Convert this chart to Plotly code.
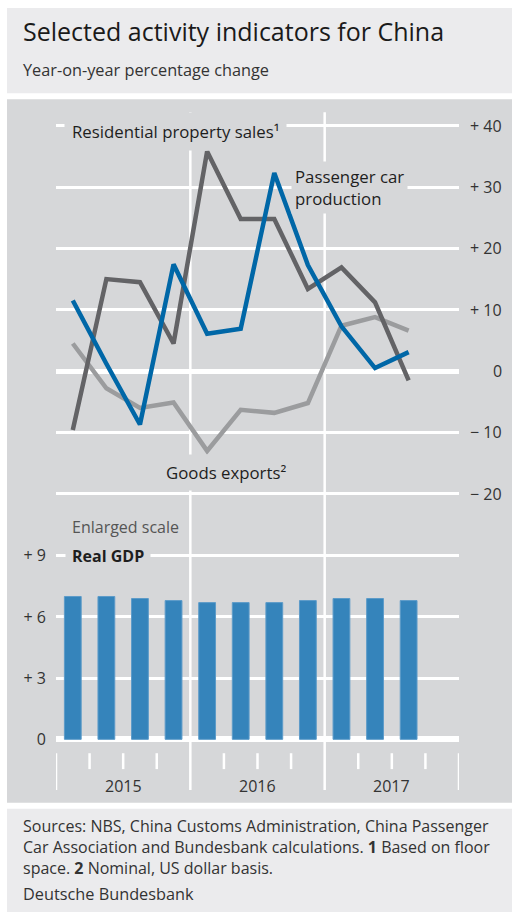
import plotly.graph_objects as go

# ---------------- data ----------------
quarters = ["2015 Q1", "2015 Q2", "2015 Q3", "2015 Q4",
            "2016 Q1", "2016 Q2", "2016 Q3", "2016 Q4",
            "2017 Q1", "2017 Q2", "2017 Q3", "2017 Q4"]
data_quarters = quarters[:11]

residential_sales = [-9.6, 15.0, 14.5, 4.5, 35.8, 24.8, 24.8, 13.4, 16.9, 11.2, -1.5]
car_production = [11.5, 1.2, -8.7, 17.4, 6.1, 6.9, 32.3, 17.3, 7.3, 0.5, 3.1]
goods_exports = [4.5, -2.8, -6.0, -5.1, -13.0, -6.3, -6.8, -5.2, 7.4, 8.8, 6.6]
real_gdp = [7.0, 7.0, 6.9, 6.8, 6.7, 6.7, 6.7, 6.8, 6.9, 6.9, 6.8]

top_tickvals = [40, 30, 20, 10, 0, -10, -20]
top_ticktext = ["+ 40", "+ 30", "+ 20", "+ 10", "0", "\u2212 10", "\u2212 20"]
bot_tickvals = [0, 3, 6, 9]
bot_ticktext = ["0", "+ 3", "+ 6", "+ 9"]
years = ["2015", "2016", "2017"]

footer_lines = ["Sources: NBS, China Customs Administration, China Passenger",
                "Car Association and Bundesbank calculations. <b>1</b> Based on floor",
                "space. <b>2</b> Nominal, US dollar basis."]

# ---------------- styling ----------------
W, H = 512, 916
FONT = "Open Sans"
HEADER_BG = "#ebebed"
PANEL_BG = "#d6d7d9"
C_RES = "#636366"
C_CAR = "#0067a7"
C_EXP = "#9b9c9e"
C_GDP = "#3584bb"
TXT = "#1e1e1e"


def fx(p):
    return p / W


def fy(p):
    return 1 - p / H


fig = go.Figure()

fig.add_trace(go.Scatter(x=data_quarters, y=goods_exports, mode="lines",
                         line=dict(color=C_EXP, width=4.5), xaxis="x", yaxis="y"))
fig.add_trace(go.Scatter(x=data_quarters, y=residential_sales, mode="lines",
                         line=dict(color=C_RES, width=4.5), xaxis="x", yaxis="y"))
fig.add_trace(go.Scatter(x=data_quarters, y=car_production, mode="lines",
                         line=dict(color=C_CAR, width=4.5), xaxis="x", yaxis="y"))
fig.add_trace(go.Bar(x=data_quarters, y=real_gdp, width=0.5,
                     marker=dict(color=C_GDP, line=dict(color="#5d9bc9", width=1)),
                     xaxis="x", yaxis="y2"))

shapes = []
# background panels
shapes.append(dict(type="rect", xref="paper", yref="paper", x0=fx(7), x1=1.0,
                   y0=fy(91), y1=fy(5), fillcolor=HEADER_BG, line=dict(width=0), layer="below"))
shapes.append(dict(type="rect", xref="paper", yref="paper", x0=fx(7), x1=1.0,
                   y0=fy(806), y1=fy(97), fillcolor=PANEL_BG, line=dict(width=0), layer="below"))
shapes.append(dict(type="rect", xref="paper", yref="paper", x0=fx(7), x1=1.0,
                   y0=fy(916), y1=fy(812), fillcolor=HEADER_BG, line=dict(width=0), layer="below"))

# year separators through both panels
for xb in [3.5, 7.5]:
    shapes.append(dict(type="line", xref="x", yref="paper", x0=xb, x1=xb,
                       y0=fy(793), y1=fy(110), line=dict(color="white", width=2.5), layer="below"))
# quarter ticks below the bar panel
for i in range(13):
    xb = i - 0.5
    major = (i % 4 == 0)
    if major and i in (4, 8):
        continue
    shapes.append(dict(type="line", xref="x", yref="paper", x0=xb, x1=xb,
                       y0=fy(793 if major else 772), y1=fy(756),
                       line=dict(color="white", width=2.5), layer="below"))

annotations = []
# titles
annotations.append(dict(text="Selected activity indicators for China", xref="paper", yref="paper",
                        x=fx(21), y=fy(28), xanchor="left", yanchor="middle", showarrow=False,
                        font=dict(family=FONT, size=25, color="#1a1a1a")))
annotations.append(dict(text="Year-on-year percentage change", xref="paper", yref="paper",
                        x=fx(21), y=fy(68), xanchor="left", yanchor="middle", showarrow=False,
                        font=dict(family=FONT, size=16.3, color="#333333")))
# right tick labels of top panel
for v, t in zip(top_tickvals, top_ticktext):
    annotations.append(dict(text=t, xref="paper", yref="y", x=fx(504), y=v,
                            xanchor="right", yanchor="middle", showarrow=False,
                            font=dict(family=FONT, size=16, color="#333333")))
# series labels
annotations.append(dict(text="Residential property sales\u00b9", xref="paper", yref="paper",
                        x=fx(64), y=fy(129), xanchor="left", yanchor="middle", showarrow=False,
                        bgcolor=PANEL_BG, borderpad=7,
                        font=dict(family=FONT, size=16.8, color=TXT)))
annotations.append(dict(text="Passenger car<br>production", xref="paper", yref="paper",
                        x=fx(291), y=fy(186), xanchor="left", yanchor="middle", showarrow=False,
                        align="left", bgcolor=PANEL_BG, borderpad=3,
                        font=dict(family=FONT, size=16.8, color=TXT)))
annotations.append(dict(text="Goods exports\u00b2", xref="paper", yref="paper",
                        x=fx(159), y=fy(473), xanchor="left", yanchor="middle", showarrow=False,
                        bgcolor=PANEL_BG, borderpad=6,
                        font=dict(family=FONT, size=16.8, color=TXT)))
annotations.append(dict(text="Enlarged scale", xref="paper", yref="paper",
                        x=fx(70), y=fy(528), xanchor="left", yanchor="middle", showarrow=False,
                        font=dict(family=FONT, size=16, color="#555555")))
annotations.append(dict(text="<b>Real GDP</b>", xref="paper", yref="paper",
                        x=fx(65), y=fy(557), xanchor="left", yanchor="middle", showarrow=False,
                        bgcolor=PANEL_BG, borderpad=6,
                        font=dict(family=FONT, size=16, color=TXT)))
# year labels
for k, yr in enumerate(years):
    annotations.append(dict(text=yr, xref="x", yref="paper", x=1.5 + 4 * k, y=fy(789),
                            xanchor="center", yanchor="middle", showarrow=False,
                            font=dict(family=FONT, size=16, color="#333333")))
# footer
annotations.append(dict(text="<br>".join(footer_lines), xref="paper", yref="paper",
                        x=fx(21), y=fy(851), xanchor="left", yanchor="middle", align="left",
                        showarrow=False,
                        font=dict(family=FONT, size=16, color="#333333")))
annotations.append(dict(text="Deutsche Bundesbank", xref="paper", yref="paper",
                        x=fx(21), y=fy(898), xanchor="left", yanchor="middle", showarrow=False,
                        font=dict(family=FONT, size=16.3, color="#333333")))

fig.update_layout(
    width=W, height=H,
    margin=dict(l=0, r=0, t=0, b=0),
    paper_bgcolor="white",
    plot_bgcolor="rgba(0,0,0,0)",
    showlegend=False,
    font=dict(family=FONT, color="#333333"),
    xaxis=dict(domain=[fx(56), fx(459)], type="category", categoryorder="array",
               categoryarray=quarters, range=[-0.5, 11.5], anchor="y2",
               showgrid=False, showline=False, zeroline=False, showticklabels=False, ticks=""),
    yaxis=dict(domain=[fy(507), fy(110)], range=[-22, 42.2], anchor="x",
               tickvals=top_tickvals, showticklabels=False, ticks="",
               showgrid=True, gridcolor="white", gridwidth=3,
               zeroline=True, zerolinecolor="white", zerolinewidth=4.5, showline=False),
    yaxis2=dict(domain=[fy(748.2), fy(548.7)], range=[-0.3, 9.4], anchor="x",
                tickvals=bot_tickvals, ticktext=bot_ticktext, ticks="", side="left",
                ticklabelstandoff=9,
                tickfont=dict(family=FONT, size=16, color="#333333"),
                showgrid=True, gridcolor="white", gridwidth=3,
                zeroline=True, zerolinecolor="white", zerolinewidth=5.5, showline=False),
    shapes=shapes,
    annotations=annotations,
    bargap=0.5,
)

fig.write_html("out.html")
